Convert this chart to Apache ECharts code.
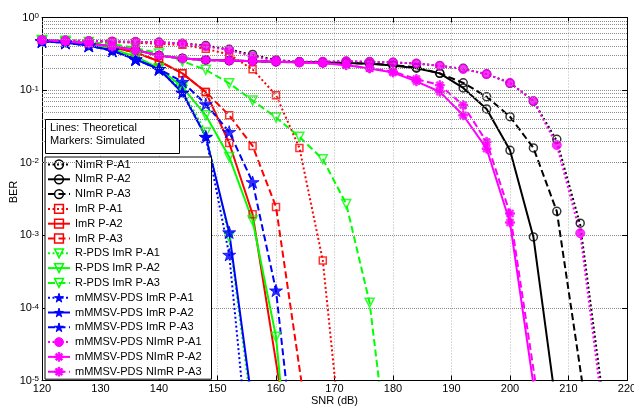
<!DOCTYPE html>
<html>
<head>
<meta charset="utf-8">
<script src="https://cdn.jsdelivr.net/npm/echarts@6/dist/echarts.min.js"></script>
<style>
  html, body { margin: 0; padding: 0; background: #fff; }
  #chart { width: 634px; height: 407px; }
</style>
</head>
<body>
<div id="chart"></div>
<script>
// SNR grid (dB) shared by every curve
const snrDb = [120, 124, 128, 132, 136, 140, 144, 148, 152, 156, 160, 164, 168, 172, 176, 180, 184, 188, 192, 196, 200, 204, 208, 212, 216, 220];

// Axis ticks
const xTicks = [120, 130, 140, 150, 160, 170, 180, 190, 200, 210, 220];
const berDecades = [1e-5, 1e-4, 1e-3, 1e-2, 1e-1, 1];
const berMinorGrid = [
  2e-5, 3e-5, 4e-5, 5e-5, 6e-5, 7e-5, 8e-5, 9e-5,
  2e-4, 3e-4, 4e-4, 5e-4, 6e-4, 7e-4, 8e-4, 9e-4,
  2e-3, 3e-3, 4e-3, 5e-3, 6e-3, 7e-3, 8e-3, 9e-3,
  2e-2, 3e-2, 4e-2, 5e-2, 6e-2, 7e-2, 8e-2, 9e-2,
  2e-1, 3e-1, 4e-1, 5e-1, 6e-1, 7e-1, 8e-1, 9e-1
];

// NImR
const nimrA1Theory = [0.49, 0.485, 0.475, 0.468, 0.462, 0.455, 0.44, 0.41, 0.364, 0.304, 0.26, 0.245, 0.245, 0.248, 0.245, 0.24, 0.232, 0.216, 0.195, 0.166, 0.126, 0.071, 0.02, 1.4e-3, 4.9e-6];
const nimrA1Sim    = [0.49, 0.485, 0.475, 0.468, 0.462, 0.455, 0.44, 0.41, 0.364, 0.31, 0.26, 0.245, 0.245, 0.248, 0.245, 0.24, 0.232, 0.216, 0.2, 0.166, 0.124, 0.07, 0.021, 1.47e-3];
const nimrA2Theory = [0.49, 0.47, 0.44, 0.40, 0.356, 0.30, 0.273, 0.26, 0.255, 0.25, 0.246, 0.243, 0.24, 0.236, 0.23, 0.218, 0.2, 0.17, 0.107, 0.055, 0.0148, 9.5e-4, 3.8e-6];
const nimrA2Sim    = [0.49, 0.47, 0.44, 0.40, 0.356, 0.30, 0.273, 0.26, 0.255, 0.25, 0.246, 0.243, 0.24, 0.236, 0.23, 0.218, 0.2, 0.17, 0.107, 0.055, 0.0148, 9.5e-4];
const nimrA3Theory = [0.49, 0.47, 0.44, 0.40, 0.356, 0.30, 0.273, 0.26, 0.255, 0.25, 0.246, 0.243, 0.24, 0.236, 0.232, 0.222, 0.205, 0.17, 0.126, 0.081, 0.043, 0.016, 2.14e-3, 1.45e-5, 1e-7];
const nimrA3Sim    = [0.49, 0.47, 0.44, 0.40, 0.356, 0.30, 0.273, 0.26, 0.255, 0.25, 0.246, 0.243, 0.24, 0.236, 0.232, 0.222, 0.205, 0.17, 0.126, 0.081, 0.043, 0.016, 2.14e-3];

// ImR
const imrA1Theory = [0.49, 0.48, 0.47, 0.46, 0.45, 0.435, 0.42, 0.37, 0.31, 0.193, 0.085, 0.016, 4.5e-4, 3.2e-7];
const imrA1Sim    = [0.49, 0.48, 0.47, 0.46, 0.45, 0.435, 0.42, 0.37, 0.31, 0.193, 0.085, 0.016, 4.5e-4];
const imrA2Theory = [0.49, 0.47, 0.44, 0.39, 0.33, 0.25, 0.17, 0.094, 0.0187, 1.95e-3, 1.8e-5, 1.7e-7];
const imrA2Sim    = [0.49, 0.47, 0.44, 0.39, 0.33, 0.25, 0.17, 0.094, 0.0187, 1.95e-3];
const imrA3Theory = [0.49, 0.47, 0.44, 0.39, 0.33, 0.25, 0.17, 0.094, 0.045, 0.017, 2.46e-3, 1.5e-5, 9e-8];
const imrA3Sim    = [0.49, 0.47, 0.44, 0.39, 0.33, 0.25, 0.17, 0.094, 0.045, 0.017, 2.46e-3];

// R-PDS ImR
const rpdsA1Theory = [0.48, 0.46, 0.42, 0.36, 0.28, 0.2, 0.1, 0.026, 9.5e-4, 3.2e-6];
const rpdsA1Sim    = [0.48, 0.46, 0.42, 0.36, 0.28, 0.2, 0.1, 0.026, 9.5e-4];
const rpdsA2Theory = [0.48, 0.46, 0.42, 0.37, 0.29, 0.2, 0.11, 0.045, 0.012, 1.6e-3, 4e-5, 1.6e-8];
const rpdsA2Sim    = [0.48, 0.46, 0.42, 0.37, 0.29, 0.2, 0.11, 0.045, 0.012, 1.6e-3, 4e-5];
const rpdsA3Theory = [0.49, 0.48, 0.46, 0.43, 0.38, 0.32, 0.25, 0.19, 0.124, 0.072, 0.042, 0.0227, 0.0112, 2.7e-3, 1.18e-4, 2.5e-7];
const rpdsA3Sim    = [0.49, 0.48, 0.46, 0.43, 0.38, 0.32, 0.25, 0.19, 0.124, 0.072, 0.042, 0.0227, 0.0112, 2.7e-3, 1.18e-4];

// mMMSV-PDS ImR
const mmImrA1Theory = [0.47, 0.45, 0.41, 0.35, 0.265, 0.195, 0.092, 0.0227, 5.4e-4, 2.8e-7];
const mmImrA1Sim    = [0.47, 0.45, 0.41, 0.35, 0.265, 0.195, 0.092, 0.0227, 5.4e-4];
const mmImrA2Theory = [0.47, 0.45, 0.41, 0.35, 0.265, 0.195, 0.092, 0.0227, 1.1e-3, 4.4e-6];
const mmImrA2Sim    = [0.47, 0.45, 0.41, 0.35, 0.265, 0.195, 0.092, 0.0227, 1.1e-3];
const mmImrA3Theory = [0.47, 0.45, 0.41, 0.35, 0.265, 0.195, 0.13, 0.064, 0.0266, 5.4e-3, 1.74e-4, 2.1e-7];
const mmImrA3Sim    = [0.47, 0.45, 0.41, 0.35, 0.265, 0.195, 0.13, 0.064, 0.0266, 5.4e-3, 1.74e-4];

// mMMSV-PDS NImR
const mmNimrA1Theory = [0.49, 0.485, 0.475, 0.468, 0.462, 0.455, 0.44, 0.40, 0.356, 0.29, 0.255, 0.244, 0.246, 0.251, 0.246, 0.241, 0.233, 0.217, 0.195, 0.166, 0.126, 0.071, 0.0175, 1.07e-3, 3.1e-6];
const mmNimrA1Sim    = [0.49, 0.485, 0.475, 0.468, 0.462, 0.455, 0.44, 0.40, 0.356, 0.29, 0.255, 0.244, 0.246, 0.251, 0.246, 0.241, 0.233, 0.217, 0.195, 0.166, 0.126, 0.071, 0.0175, 1.07e-3];
const mmNimrA2Theory = [0.49, 0.47, 0.44, 0.40, 0.356, 0.30, 0.273, 0.26, 0.255, 0.25, 0.245, 0.24, 0.235, 0.221, 0.199, 0.175, 0.132, 0.095, 0.045, 0.0156, 1.5e-3, 8.8e-6];
const mmNimrA2Sim    = [0.49, 0.47, 0.44, 0.40, 0.356, 0.30, 0.273, 0.26, 0.255, 0.25, 0.245, 0.24, 0.235, 0.221, 0.199, 0.175, 0.132, 0.095, 0.045, 0.0156, 1.5e-3];
const mmNimrA3Theory = [0.49, 0.47, 0.44, 0.40, 0.356, 0.30, 0.273, 0.26, 0.255, 0.25, 0.245, 0.24, 0.235, 0.221, 0.2, 0.18, 0.142, 0.117, 0.062, 0.0194, 2e-3, 1.45e-5, 1e-7];
const mmNimrA3Sim    = [0.49, 0.47, 0.44, 0.40, 0.356, 0.30, 0.273, 0.26, 0.255, 0.25, 0.245, 0.24, 0.235, 0.221, 0.2, 0.18, 0.142, 0.117, 0.062, 0.0194, 2e-3];

// Marker shapes
const STAR = 'path://M0,-5L1.123,-1.545L4.755,-1.545L1.817,0.59L2.939,4.045L0,1.91L-2.939,4.045L-1.817,0.59L-4.755,-1.545L-1.123,-1.545Z';
const ASTERISK = 'path://M-0.9,-5L0.9,-5L0.9,5L-0.9,5Z M-5,-0.9L5,-0.9L5,0.9L-5,0.9Z M4.18,2.9L2.9,4.18L-4.18,-2.9L-2.9,-4.18Z M-2.9,4.18L-4.18,2.9L2.9,-4.18L4.18,-2.9Z';

const LINE_TYPES = { dotted: [2, 2.5], solid: 'solid', dashed: [7, 3.5] };
const MARKERS = {
  ring:     { symbol: 'circle', size: 8, rotate: 0, filled: false },
  square:   { symbol: 'rect', size: 7, rotate: 0, filled: false },
  triangle: { symbol: 'triangle', size: 9, rotate: 180, filled: false },
  star:     { symbol: STAR, size: 13, rotate: 0, filled: true },
  dot:      { symbol: 'circle', size: 9, rotate: 0, filled: true },
  asterisk: { symbol: ASTERISK, size: 9, rotate: 0, filled: true }
};

const curves = [
  { name: 'NImR P-A1', color: '#000000', line: 'dotted', marker: 'ring', theory: nimrA1Theory, sim: nimrA1Sim },
  { name: 'NImR P-A2', color: '#000000', line: 'solid',  marker: 'ring', theory: nimrA2Theory, sim: nimrA2Sim },
  { name: 'NImR P-A3', color: '#000000', line: 'dashed', marker: 'ring', theory: nimrA3Theory, sim: nimrA3Sim },
  { name: 'ImR P-A1', color: '#ff0000', line: 'dotted', marker: 'square', theory: imrA1Theory, sim: imrA1Sim },
  { name: 'ImR P-A2', color: '#ff0000', line: 'solid',  marker: 'square', theory: imrA2Theory, sim: imrA2Sim },
  { name: 'ImR P-A3', color: '#ff0000', line: 'dashed', marker: 'square', theory: imrA3Theory, sim: imrA3Sim },
  { name: 'R-PDS ImR P-A1', color: '#00ff00', line: 'dotted', marker: 'triangle', theory: rpdsA1Theory, sim: rpdsA1Sim },
  { name: 'R-PDS ImR P-A2', color: '#00ff00', line: 'solid',  marker: 'triangle', theory: rpdsA2Theory, sim: rpdsA2Sim },
  { name: 'R-PDS ImR P-A3', color: '#00ff00', line: 'dashed', marker: 'triangle', theory: rpdsA3Theory, sim: rpdsA3Sim },
  { name: 'mMMSV-PDS ImR P-A1', color: '#0000ff', line: 'dotted', marker: 'star', theory: mmImrA1Theory, sim: mmImrA1Sim },
  { name: 'mMMSV-PDS ImR P-A2', color: '#0000ff', line: 'solid',  marker: 'star', theory: mmImrA2Theory, sim: mmImrA2Sim },
  { name: 'mMMSV-PDS ImR P-A3', color: '#0000ff', line: 'dashed', marker: 'star', theory: mmImrA3Theory, sim: mmImrA3Sim },
  { name: 'mMMSV-PDS NImR P-A1', color: '#ff00ff', line: 'dotted', marker: 'dot', theory: mmNimrA1Theory, sim: mmNimrA1Sim },
  { name: 'mMMSV-PDS NImR P-A2', color: '#ff00ff', line: 'solid',  marker: 'asterisk', theory: mmNimrA2Theory, sim: mmNimrA2Sim },
  { name: 'mMMSV-PDS NImR P-A3', color: '#ff00ff', line: 'dashed', marker: 'asterisk', theory: mmNimrA3Theory, sim: mmNimrA3Sim }
];

const FONT = '"Liberation Sans", Arial, Helvetica, sans-serif';
const pairUp = arr => arr.map((v, k) => [snrDb[k], v]);

function markerStyle(c) {
  const m = MARKERS[c.marker];
  return {
    color: m.filled ? c.color : 'rgba(0,0,0,0)',
    borderColor: c.color,
    borderWidth: m.filled ? 1 : 1.5
  };
}

const series = [{
  // host for the minor (2..9) log grid lines
  type: 'line', data: [], silent: true, z: 1, animation: false,
  markLine: {
    silent: true, animation: false, symbol: ['none', 'none'],
    label: { show: false },
    lineStyle: { color: '#8c8c8c', type: [1, 1], width: 1 },
    data: berMinorGrid.map(v => ({ yAxis: v }))
  }
}];

curves.forEach(c => {
  const m = MARKERS[c.marker];
  const lt = LINE_TYPES[c.line];
  // theoretical curve (line)
  series.push({
    type: 'line', name: c.name, data: pairUp(c.theory),
    showSymbol: false, symbol: m.symbol, symbolSize: m.size, symbolRotate: m.rotate, symbolKeepAspect: true,
    lineStyle: { color: c.color, width: 2, type: lt, cap: 'butt' },
    itemStyle: markerStyle(c),
    clip: true, silent: true, animation: false, z: 2
  });
  // simulated points (markers)
  series.push({
    type: 'scatter', name: c.name, data: pairUp(c.sim),
    symbol: m.symbol, symbolSize: m.size, symbolRotate: m.rotate, symbolKeepAspect: true,
    itemStyle: markerStyle(c),
    silent: true, animation: false, z: 2
  });
});

const supLabel = v => {
  const e = Math.round(Math.log10(v));
  return '{b|10}{s|' + e + '}';
};

const option = {
  animation: false,
  backgroundColor: '#ffffff',
  grid: { left: 42, right: 7, top: 17.5, bottom: 26.5, containLabel: false, outerBoundsMode: 'none' },
  xAxis: [{
    type: 'value', min: xTicks[0], max: xTicks[xTicks.length - 1], interval: 10,
    position: 'bottom',
    name: 'SNR (dB)', nameLocation: 'middle', nameGap: 14.5, nameMoveOverlap: false,
    nameTextStyle: { fontFamily: FONT, fontSize: 11, color: '#000' },
    axisLine: { show: true, onZero: false, lineStyle: { color: '#000', width: 1 } },
    axisTick: { show: true, inside: true, length: 5, lineStyle: { color: '#000' } },
    axisLabel: { show: true, margin: 3, fontFamily: FONT, fontSize: 11, color: '#000', hideOverlap: false },
    splitLine: { show: true, lineStyle: { color: '#b4b4b4', type: [1, 2], width: 1 } }
  }, {
    type: 'value', min: xTicks[0], max: xTicks[xTicks.length - 1], interval: 10,
    position: 'top',
    axisLine: { show: true, onZero: false, lineStyle: { color: '#000', width: 1 } },
    axisTick: { show: true, inside: true, length: 5, lineStyle: { color: '#000' } },
    axisLabel: { show: false },
    splitLine: { show: false }
  }],
  yAxis: [{
    type: 'log', logBase: 10, min: berDecades[0], max: berDecades[berDecades.length - 1],
    position: 'left',
    name: 'BER', nameLocation: 'middle', nameGap: 23, nameRotate: 90, nameMoveOverlap: false,
    nameTextStyle: { fontFamily: FONT, fontSize: 11, color: '#000', padding: [0, 0, 0, 14] },
    axisLine: { show: true, onZero: false, lineStyle: { color: '#000', width: 1 } },
    axisTick: { show: true, inside: true, length: 5, lineStyle: { color: '#000' } },
    axisLabel: {
      show: true, margin: 3, formatter: supLabel, hideOverlap: false,
      rich: {
        b: { fontFamily: FONT, fontSize: 11, color: '#000', verticalAlign: 'bottom', lineHeight: 11 },
        s: { fontFamily: FONT, fontSize: 8, color: '#000', verticalAlign: 'top', lineHeight: 8, padding: [0, 0, 6, 0] }
      }
    },
    splitLine: { show: true, lineStyle: { color: '#8c8c8c', type: [1, 1], width: 1 } }
  }, {
    type: 'log', logBase: 10, min: berDecades[0], max: berDecades[berDecades.length - 1],
    position: 'right',
    axisLine: { show: true, onZero: false, lineStyle: { color: '#000', width: 1 } },
    axisTick: { show: true, inside: true, length: 5, lineStyle: { color: '#000' } },
    axisLabel: { show: false },
    splitLine: { show: false }
  }],
  legend: {
    orient: 'vertical', left: 45, top: 157,
    padding: [2, 10, 2, 2], itemGap: 3.8, itemWidth: 22, itemHeight: 11,
    backgroundColor: '#ffffff', borderColor: '#000', borderWidth: 1, borderRadius: 0,
    selectedMode: false,
    textStyle: { fontFamily: FONT, fontSize: 11, color: '#000' },
    data: curves.map(c => ({
      name: c.name,
      itemStyle: markerStyle(c),
      lineStyle: { color: c.color, width: 2, type: LINE_TYPES[c.line] }
    }))
  },
  graphic: [{
    type: 'rect', z: 10,
    shape: { x: 45.5, y: 119.5, width: 134, height: 34 },
    style: { fill: '#ffffff', stroke: '#000', lineWidth: 1 }
  }, {
    type: 'text', z: 11, x: 50, y: 122,
    style: { text: 'Lines: Theoretical\nMarkers: Simulated', fontFamily: FONT, fontSize: 11, fill: '#000', lineHeight: 12.5 }
  }],
  series: series
};

const chart = echarts.init(document.getElementById('chart'), null, { renderer: 'canvas' });
chart.setOption(option);
</script>
</body>
</html>
